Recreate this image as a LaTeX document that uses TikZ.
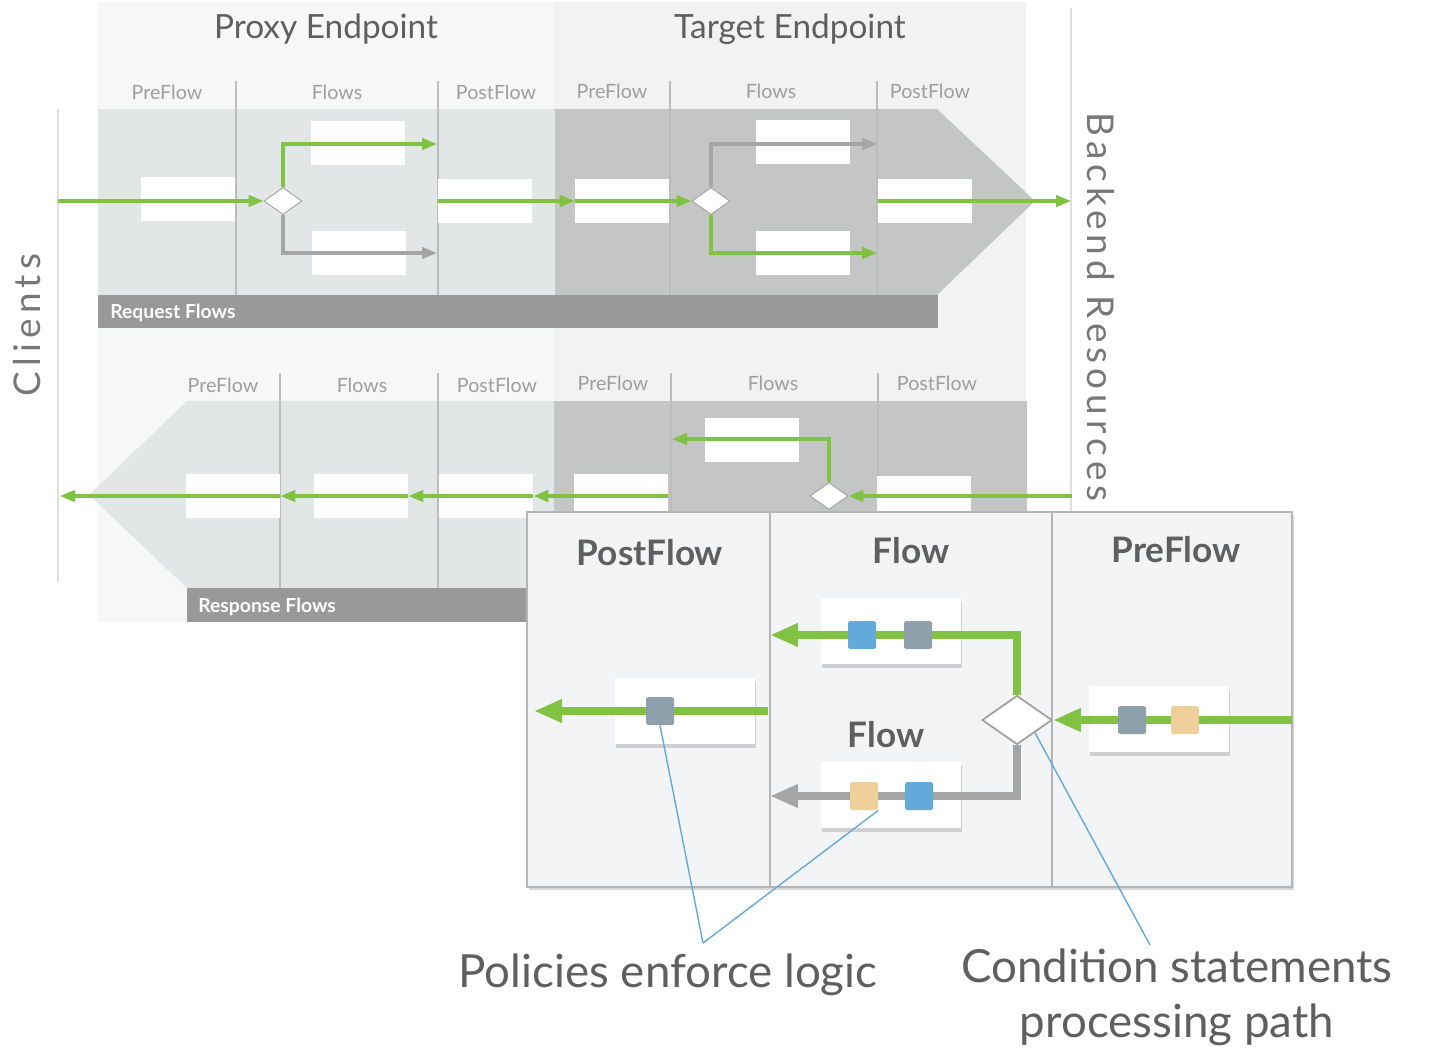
\documentclass[tikz,border=0pt]{standalone}
\usepackage{fontspec}
\setmainfont{Lato}
\newfontfamily\sidefont[LetterSpace=14]{Lato}
\usepackage{tikz}
\usetikzlibrary{shapes.geometric,arrows.meta,shadows}

\definecolor{flowgreen}{HTML}{80C241}
\definecolor{arrowgray}{HTML}{A5A5A5}
\definecolor{gategray}{HTML}{A0A0A0}
\definecolor{proxybg}{HTML}{F6F7F7}
\definecolor{targetbg}{HTML}{F2F2F2}
\definecolor{proxylane}{HTML}{E3E6E7}
\definecolor{targetlane}{HTML}{C4C6C5}
\definecolor{bargray}{HTML}{999999}
\definecolor{divgray}{HTML}{BCBCBC}
\definecolor{labelgray}{HTML}{9E9E9E}
\definecolor{headgray}{HTML}{5F5F5F}
\definecolor{panelfill}{HTML}{F3F4F6}
\definecolor{panelbd}{HTML}{B5B5B5}
\definecolor{policyblue}{HTML}{63A9DA}
\definecolor{policygray}{HTML}{8EA0AC}
\definecolor{policytan}{HTML}{EFCF9A}
\definecolor{calloutblue}{HTML}{63A9DA}
\definecolor{edgegray}{HTML}{E0E0E0}
\definecolor{sidegray}{HTML}{777777}

\def\pxl{0.02cm} % one pixel of the reference

\begin{document}
\begin{tikzpicture}[x=0.02cm, y=-0.02cm,
	flowbox/.style={fill=white, inner sep=0, minimum width=94*\pxl, minimum height=44*\pxl},
	panelbox/.style={fill=white, inner sep=0, minimum width=140*\pxl, minimum height=66*\pxl,
		drop shadow={shadow xshift=0.6pt, shadow yshift=-2.2pt, opacity=0.3}},
	gate/.style={diamond, fill=white, draw=gategray, line width=0.5pt, inner sep=0,
		minimum width=38*\pxl, minimum height=27*\pxl},
	biggate/.style={gate, line width=1pt, minimum width=70*\pxl, minimum height=49*\pxl},
	policy/.style={inner sep=0, minimum size=28*\pxl, rounded corners=1pt},
	goline/.style={draw=flowgreen, line width=1.8pt, -{Triangle[length=8.5pt,width=6.5pt]}},
	grayline/.style={goline, draw=arrowgray},
	fatgo/.style={draw=flowgreen, line width=4pt, -{Triangle[length=16pt,width=12.5pt]}},
	fatgray/.style={fatgo, draw=arrowgray},
	divline/.style={draw=divgray, line width=1.1pt},
	head/.style={text=headgray, font=\fontsize{19}{23}\selectfont},
	collabel/.style={text=labelgray, font=\fontsize{11.2}{13}\selectfont},
	bartext/.style={text=white, inner sep=0, font=\bfseries\fontsize{11}{13}\selectfont},
	sidetext/.style={text=sidegray, font=\sidefont\fontsize{21}{25}\selectfont},
	paneltitle/.style={text=headgray, font=\bfseries\fontsize{20}{24}\selectfont},
	note/.style={text=headgray, font=\fontsize{26}{31}\selectfont},
	callout/.style={draw=calloutblue, line width=0.8pt}]

	\useasboundingbox (0,0) rectangle (1445,1049);
	\fill[white] (0,0) rectangle (1445,1049);

	% endpoints
	\fill[proxybg] (98,2) rectangle (554,622);
	\fill[targetbg] (554,2) rectangle (1026,622);
	\node[head, anchor=base] (hProxy) at (326,38) {Proxy Endpoint};
	\node[head, anchor=base] (hTarget) at (790,38) {Target Endpoint};

	% request lane
	\fill[proxylane] (98,109) rectangle (555,295);
	\fill[targetlane] (555,109) -- (937,109) -- (1035,201) -- (937,295) -- (555,295) -- cycle;
	% response lane
	\fill[proxylane] (89,495) -- (187,401) -- (554,401) -- (554,588) -- (187,588) -- cycle;
	\fill[targetlane] (554,401) rectangle (1027,588);

	% column dividers
	\foreach \dx in {236,438,670,877}
		\draw[divline] (\dx,81) -- (\dx,295);
	\foreach \dx in {280,438,671,878}
		\draw[divline] (\dx,373) -- (\dx,588);

	% column labels
	\node[collabel, anchor=base] (lqA) at (167,99) {PreFlow};
	\node[collabel, anchor=base] (lqB) at (337,99) {Flows};
	\node[collabel, anchor=base] (lqC) at (496,99) {PostFlow};
	\node[collabel, anchor=base] (lqD) at (612,98) {PreFlow};
	\node[collabel, anchor=base] (lqE) at (771,98) {Flows};
	\node[collabel, anchor=base] (lqF) at (930,98) {PostFlow};
	\node[collabel, anchor=base] (lsA) at (223,392) {PreFlow};
	\node[collabel, anchor=base] (lsB) at (362,392) {Flows};
	\node[collabel, anchor=base] (lsC) at (497,392) {PostFlow};
	\node[collabel, anchor=base] (lsD) at (613,390) {PreFlow};
	\node[collabel, anchor=base] (lsE) at (773,390) {Flows};
	\node[collabel, anchor=base] (lsF) at (937,390) {PostFlow};

	% lane bars
	\fill[bargray] (98,295) rectangle (938,328);
	\node[bartext, anchor=base west] (bReq) at (110,318) {Request Flows};
	\fill[bargray] (187,588) rectangle (600,622);
	\node[bartext, anchor=base west] (bRes) at (198,612) {Response Flows};

	% clients and backend
	\draw[edgegray, line width=1.2pt] (58,109) -- (58,582);
	\draw[edgegray, line width=1.2pt] (1071,8) -- (1071,512);
	\node[sidetext, rotate=90] (tClients) at (27,325) {Clients};
	\node[sidetext, rotate=-90] (tBackend) at (1101,307) {Backend Resources};

	% request boxes
	\node[flowbox] (rqA) at (188,199) {};
	\node[flowbox] (rqB) at (358,143) {};
	\node[flowbox] (rqC) at (359,253) {};
	\node[flowbox] (rqD) at (485,201) {};
	\node[flowbox] (rqE) at (622,201) {};
	\node[flowbox] (rqF) at (803,142) {};
	\node[flowbox] (rqG) at (803,253) {};
	\node[flowbox] (rqH) at (925,201) {};
	\node[gate] (dqA) at (283,201) {};
	\node[gate] (dqB) at (711,201) {};

	% response boxes
	\node[flowbox] (rsA) at (233,496) {};
	\node[flowbox] (rsB) at (361,496) {};
	\node[flowbox] (rsC) at (486,496) {};
	\node[flowbox] (rsD) at (621,496) {};
	\node[flowbox] (rsE) at (752,440) {};
	\node[flowbox] (rsF) at (924,498) {};
	\node[gate] (dsA) at (829,496) {};

	% request path
	\coordinate (cIn) at (58,201);
	\coordinate (qB) at (437,144);
	\coordinate (qC) at (437,253);
	\coordinate (qF) at (877,144);
	\coordinate (qG) at (877,253);
	\coordinate (cOut) at (1071,201);
	\draw[goline] (cIn) -- (dqA.west);
	\draw[goline] (dqA.north) |- (qB);
	\draw[grayline] (dqA.south) |- (qC);
	\draw[goline] (rqD.west) -- (rqE.west);
	\draw[goline] (rqE.west) -- (dqB.west);
	\draw[grayline] (dqB.north) |- (qF);
	\draw[goline] (dqB.south) |- (qG);
	\draw[goline] (rqH.west) -- (cOut);

	% response path
	\coordinate (cBack) at (1072,496);
	\coordinate (sE) at (672,439);
	\coordinate (cCli) at (60,496);
	\draw[goline] (cBack) -- (dsA.east);
	\draw[goline] (dsA.north) |- (sE);
	\draw[goline] (rsD.east) -- (rsC.east);
	\draw[goline] (rsC.east) -- (rsB.east);
	\draw[goline] (rsB.east) -- (rsA.east);
	\draw[goline] (rsA.east) -- (cCli);

	% zoomed panel
	\node[fill=panelfill, draw=panelbd, line width=0.8pt, inner sep=0,
		minimum width=765*\pxl, minimum height=375*\pxl,
		drop shadow={shadow xshift=1.2pt, shadow yshift=-1.6pt, opacity=0.3}] (pnl) at (909.5,699.5) {};
	\draw[panelbd, line width=0.8pt] (770,512) -- (770,887);
	\draw[panelbd, line width=0.8pt] (1052,512) -- (1052,887);
	\node[paneltitle, anchor=base] (tPost) at (650,565) {PostFlow};
	\node[paneltitle, anchor=base] (tFlowA) at (911,563) {Flow};
	\node[paneltitle, anchor=base] (tPre) at (1176,562) {PreFlow};
	\node[paneltitle, anchor=base] (tFlowB) at (886,747) {Flow};

	\node[panelbox] (pbA) at (891,631) {};
	\node[panelbox] (pbB) at (891,795) {};
	\node[panelbox] (pbC) at (685,711) {};
	\node[panelbox] (pbD) at (1159,719) {};
	\node[biggate] (dpA) at (1017,720) {};

	% panel paths
	\coordinate (pA) at (770,635);
	\coordinate (pB) at (770,796);
	\coordinate (pIn) at (1292,720);
	\coordinate (pOutA) at (768,711);
	\coordinate (pOutB) at (534,711);
	\draw[fatgo] (dpA.north) |- (pA);
	\draw[fatgray] (dpA.south) |- (pB);
	\draw[fatgo] (pIn) -- (dpA.east);
	\draw[fatgo] (pOutA) -- (pOutB);

	% policies
	\node[policy, fill=policyblue] (sqA1) at (862,635) {};
	\node[policy, fill=policygray] (sqA2) at (918,635) {};
	\node[policy, fill=policytan] (sqB1) at (864,796) {};
	\node[policy, fill=policyblue] (sqB2) at (919,796) {};
	\node[policy, fill=policygray] (sqC) at (660,711) {};
	\node[policy, fill=policygray] (sqD1) at (1132,720) {};
	\node[policy, fill=policytan] (sqD2) at (1185,720) {};

	% callouts
	\coordinate (tipA) at (703,943);
	\coordinate (tipB) at (1150,945);
	\draw[callout] (sqC.south) -- (tipA);
	\draw[callout] (sqB1.south east) -- (tipA);
	\draw[callout] (dpA.south east) -- (tipB);
	\node[note, anchor=base] (nPol) at (668,987) {Policies enforce logic};
	\node[note, anchor=base] (nCondA) at (1177,982) {Condition statements};
	\node[note, anchor=base] (nCondB) at (1177,1037) {processing path};
\end{tikzpicture}
\end{document}
